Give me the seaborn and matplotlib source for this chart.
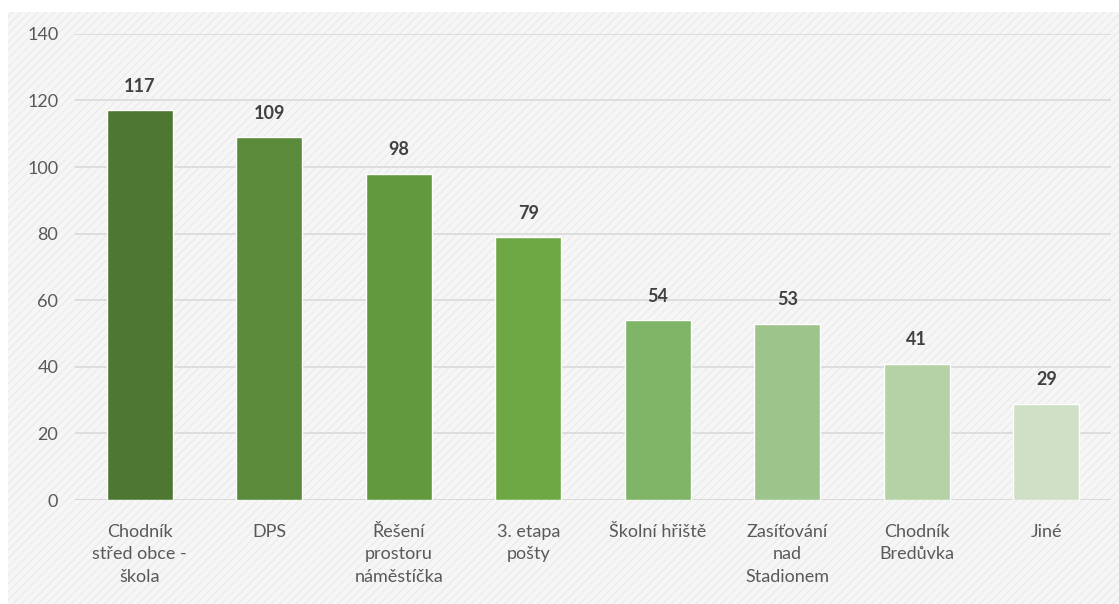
import matplotlib
matplotlib.use('Agg')
import matplotlib.pyplot as plt
import seaborn as sns
import pandas as pd

# data
categories = ['Chodník\nstřed obce -\nškola', 'DPS', 'Řešení\nprostoru\nnáměstíčka',
              '3. etapa\npošty', 'Školní hřiště', 'Zasíťování\nnad\nStadionem',
              'Chodník\nBredůvka', 'Jiné']
votes = [117, 109, 98, 79, 54, 53, 41, 29]
bar_colors = ['#4e7832', '#5a8a3a', '#62983e', '#6ea845', '#80b466',
              '#9dc48b', '#b5d2a6', '#cfe0c6']
yticks = [0, 20, 40, 60, 80, 100, 120, 140]

sns.set_theme(style='white')
plt.rcParams['font.family'] = ['Lato', 'DejaVu Sans']

df = pd.DataFrame({'kategorie': categories, 'hlasy': votes})

fig = plt.figure(figsize=(11.19, 6.04), dpi=100)
fig.patch.set_facecolor('white')
# light hatched panel behind the chart
bg = fig.add_axes([0.007, 0.0, 0.993, 0.98])
bg.set_facecolor('#f6f6f6')
bg.add_patch(plt.Rectangle((0, 0), 1, 1, transform=bg.transAxes, facecolor='none',
                           edgecolor='#ececec', hatch='////', linewidth=0))
bg.set_xticks([])
bg.set_yticks([])
for s in bg.spines.values():
    s.set_visible(False)

ax = fig.add_axes([0.067, 0.172, 0.926, 0.772])
ax.set_facecolor('none')
sns.barplot(data=df, x='kategorie', y='hlasy', hue='kategorie', palette=bar_colors,
            legend=False, width=0.51, saturation=1, ax=ax)

ax.set_ylim(0, 140)
ax.set_xlim(-0.5, len(categories) - 0.5)
ax.set_yticks(yticks)
ax.yaxis.grid(True, color='#d9d9d9', linewidth=1.2)
ax.set_axisbelow(True)
for s in ax.spines.values():
    s.set_visible(False)
ax.axhline(0, color='#d0d0d0', linewidth=1.2, zorder=0)
ax.tick_params(axis='both', length=0, labelsize=13, colors='#595959', pad=12)
ax.tick_params(axis='x', pad=17)
for lbl in ax.get_xticklabels():
    lbl.set_linespacing(1.5)
    lbl.set_verticalalignment('top')
ax.set_xlabel('')
ax.set_ylabel('')

for i, v in enumerate(votes):
    ax.annotate(str(v), (i, v), xytext=(0, 11), textcoords='offset points',
                ha='center', va='bottom', fontsize=13, fontweight='bold', color='#404040')

fig.savefig('out.png', dpi=100)
